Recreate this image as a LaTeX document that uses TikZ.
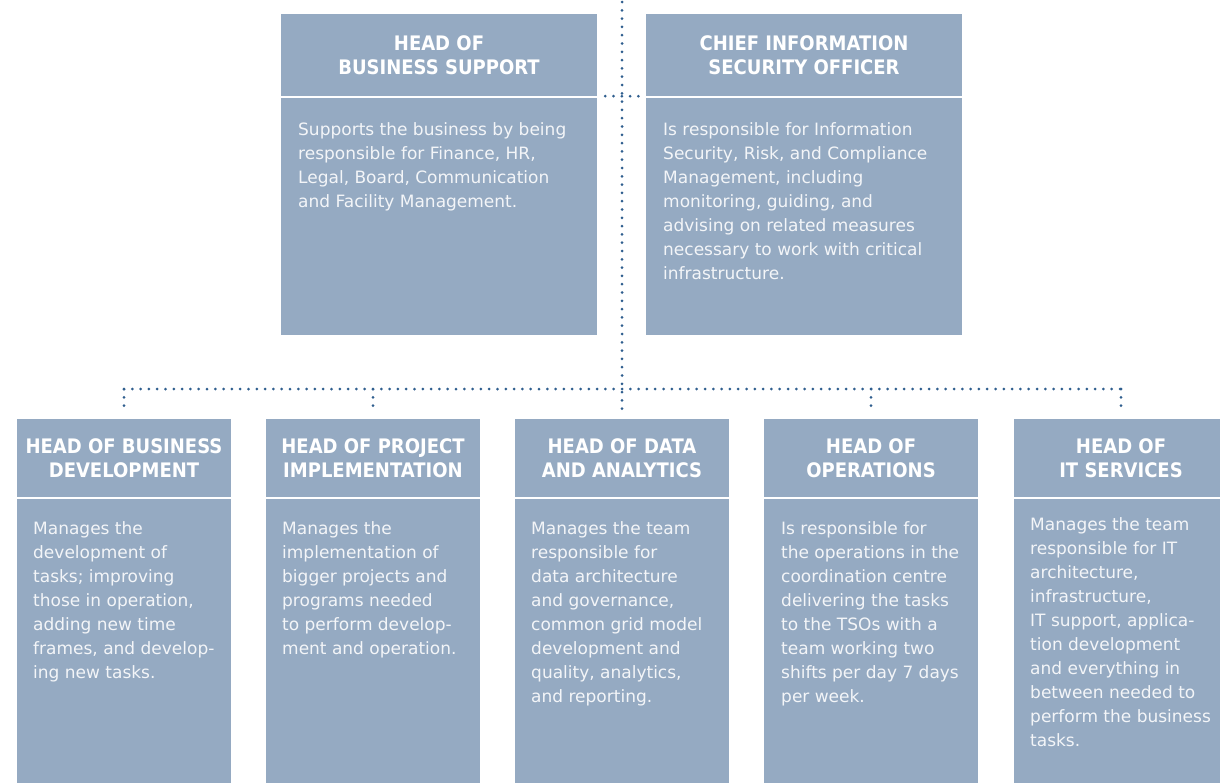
\documentclass[tikz,border=0pt]{standalone}
\usepackage{fontspec}
\setmainfont{DejaVu Sans}
\newfontfamily\headfont[FakeStretch=0.9]{DejaVu Sans}
\usepackage{xcolor}
\usepackage{tikz}
\usetikzlibrary{positioning}

\definecolor{boxblue}{HTML}{95AAC2}
\definecolor{dotblue}{HTML}{2F5E8E}
\definecolor{bodytext}{HTML}{F3F5F8}

\begin{document}
\begin{tikzpicture}[
  x=1pt, y=-1pt,
  head/.style={rectangle, fill=boxblue, inner sep=0pt, text=white, align=center,
               font=\headfont\bfseries\fontsize{20}{24}\selectfont},
  body/.style={rectangle, fill=boxblue, inner sep=0pt},
  desc/.style={inner sep=0pt, anchor=north west, align=left, text=bodytext,
               font=\fontsize{17}{24}\selectfont, execute at begin node=\strut},
  link/.style={dotblue, line width=3pt, line cap=round, dash pattern=on 0pt off 8.3pt}
]
\useasboundingbox (0,0) rectangle (1220,782);

% Top row
\node[head, minimum width=316pt, minimum height=82pt] (bsup-head) at (439,55)
  {HEAD OF\\BUSINESS SUPPORT};
\node[body, minimum width=316pt, minimum height=237pt, below=2pt of bsup-head] (bsup-body) {};
\node[head, minimum width=316pt, minimum height=82pt] (ciso-head) at (804,55)
  {CHIEF INFORMATION\\SECURITY OFFICER};
\node[body, minimum width=316pt, minimum height=237pt, below=2pt of ciso-head] (ciso-body) {};

% strut is 16.8pt high, so north = baseline - 16.8
\node[desc] (bsup-text) at (298,122)
  {Supports the business by being\\responsible for Finance, HR,\\Legal, Board, Communication\\and Facility Management.};
\node[desc] (ciso-text) at (663,122)
  {Is responsible for Information\\Security, Risk, and Compliance\\Management, including\\monitoring, guiding, and\\advising on related measures\\necessary to work with critical\\infrastructure.};

% Bottom row
\node[head, minimum width=214pt, minimum height=78pt] (bdev-head) at (124,458)
  {HEAD OF BUSINESS\\DEVELOPMENT};
\node[head, minimum width=214pt, minimum height=78pt] (proj-head) at (373,458)
  {HEAD OF PROJECT\\IMPLEMENTATION};
\node[head, minimum width=214pt, minimum height=78pt] (data-head) at (622,458)
  {HEAD OF DATA\\AND ANALYTICS};
\node[head, minimum width=214pt, minimum height=78pt] (ops-head) at (871,458)
  {HEAD OF\\OPERATIONS};
\node[head, minimum width=214pt, minimum height=78pt] (itsrv-head) at (1121,458)
  {HEAD OF\\IT SERVICES};
\foreach \n in {bdev,proj,data,ops,itsrv}
  \node[body, minimum width=214pt, minimum height=300pt, below=2pt of \n-head] (\n-body) {};

\node[desc] (bdev-text) at (33,521)
  {Manages the\\development of\\tasks; improving\\those in operation,\\adding new time\\frames, and develop-\\ing new tasks.};
\node[desc] (proj-text) at (282,521)
  {Manages the\\implementation of\\bigger projects and\\programs needed\\to perform develop-\\ment and operation.};
\node[desc] (data-text) at (531,521)
  {Manages the team\\responsible for\\data architecture\\and governance,\\common grid model\\development and\\quality, analytics,\\and reporting.};
\node[desc] (ops-text) at (781,521)
  {Is responsible for\\the operations in the\\coordination centre\\delivering the tasks\\to the TSOs with a\\team working two\\shifts per day 7 days\\per week.};
\node[desc] (itsrv-text) at (1030,517)
  {Manages the team\\responsible for IT\\architecture,\\infrastructure,\\IT support, applica-\\tion development\\and everything in\\between needed to\\perform the business\\tasks.};

% Reporting lines
\coordinate (top) at (622,2);
\coordinate (bus) at (622,389);
\draw[link, shorten >=10pt] (top) -- (data-head.north);
\draw[link, shorten <=8pt, shorten >=6pt] (bsup-head.south east) -- (ciso-head.south west);
\draw[link] (bdev-head.north |- bus) -- (itsrv-head.north |- bus);
\foreach \n in {bdev,proj,ops,itsrv}
  \draw[link, shorten >=10pt] (\n-head.north |- bus) -- (\n-head.north);
\end{tikzpicture}
\end{document}
